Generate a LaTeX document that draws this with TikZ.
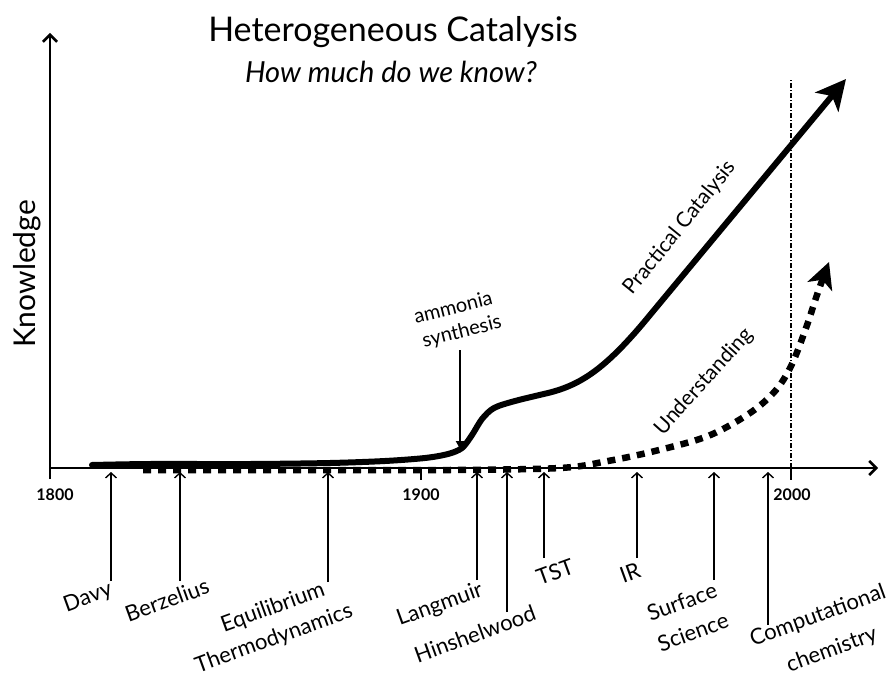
\documentclass[tikz,border=0pt]{standalone}
\usepackage{fontspec}
\setmainfont{Lato}
\usetikzlibrary{arrows.meta}
\begin{document}
\begin{tikzpicture}[x=1pt,y=-1pt,
  axisline/.style={line width=2.6pt,-{Straight Barb[length=7pt,width=14pt,line width=2.6pt]}},
  tickline/.style={line width=2.6pt},
  yearlbl/.style={font=\bfseries\fontsize{16}{16}\selectfont},
  evarrow/.style={line width=1.4pt,-{Straight Barb[length=5pt,width=11pt,line width=1.4pt]}},
  evlbl/.style={font=\fontsize{22}{22}\selectfont,rotate=20,inner sep=0pt},
  curvelbl/.style={font=\fontsize{21}{21}\selectfont,inner sep=0pt},
  practical/.style={line width=6pt,line cap=round,line join=round,
    -{Stealth[length=30pt,width=30pt,inset=8pt]}},
  understand/.style={line width=6.5pt,dash pattern=on 8pt off 7pt,
    -{Stealth[length=26pt,width=26pt,inset=7pt]}},
  refline/.style={line width=1.1pt,dash pattern=on 5pt off 2pt on 1pt off 2pt}
]
\useasboundingbox (0,0) rectangle (891,679);

% titles
\node[font=\fontsize{34}{34}\selectfont] (title) at (393,32) {Heterogeneous Catalysis};
\node[font=\itshape\fontsize{29}{29}\selectfont] (subtitle) at (391,72) {How much do we know?};
\node[font=\fontsize{30}{30}\selectfont,rotate=90] (know) at (27,274) {Knowledge};

% axes
\coordinate (ybot) at (50,479);
\coordinate (ytop) at (50,33);
\coordinate (orig) at (50,468);
\coordinate (xend) at (878,468);
\draw[axisline] (ybot) -- (ytop);
\draw[axisline] (orig) -- (xend);

% ticks
\coordinate (t19a) at (421,468); \coordinate (t19b) at (421,480);
\coordinate (t20a) at (791,468); \coordinate (t20b) at (791,480);
\draw[tickline] (t19a) -- (t19b);
\draw[tickline] (t20a) -- (t20b);
\node[yearlbl] (y1800) at (55,495) {1800};
\node[yearlbl] (y1900) at (421,495) {1900};
\node[yearlbl] (y2000) at (792,495) {2000};

% reference line at 2000
\coordinate (rtop) at (791,80);
\draw[refline] (t20a) -- (rtop);

% practical catalysis curve
\coordinate (pbend) at (650,315);
\coordinate (ptip) at (846,79);
\draw[practical] plot[smooth,tension=0.5] coordinates {
  (92,465) (150,464) (250,464) (330,463) (385,461) (425,458) (448,454)
  (462,448) (472,435) (482,419) (494,408) (515,401) (548,393)}
  .. controls (580,385) and (605,370) .. (pbend) -- (ptip);

% understanding curve
\draw[understand] plot[smooth,tension=0.55] coordinates {
  (143,470) (300,470) (450,470) (560,468) (608,461) (655,451) (708,436)
  (750,413) (776,390) (792,364) (806,328) (818,292) (829,262)};

% curve labels
\node[curvelbl,rotate=51] (pc) at (680,228) {Practical Catalysis};
\node[curvelbl,rotate=48] (und) at (704,382) {Understanding};

% ammonia synthesis
\node[font=\fontsize{20}{20}\selectfont,rotate=14,inner sep=0pt] (amm1) at (453,307) {ammonia};
\node[font=\fontsize{20}{20}\selectfont,rotate=14,inner sep=0pt] (amm2) at (462,332) {synthesis};
\coordinate (ammtop) at (460,350);
\coordinate (ammtip) at (460,449);
\draw[line width=2pt,-{Triangle[length=8pt,width=8pt]}] (ammtop) -- (ammtip);

% event labels
\node[evlbl] (davy) at (88,598) {Davy};
\node[evlbl] (berz) at (167,600) {Berzelius};
\node[evlbl] (equi1) at (273,608) {Equilibrium};
\node[evlbl] (equi2) at (274,639) {Thermodynamics};
\node[evlbl] (lang) at (440,605) {Langmuir};
\node[evlbl] (hins) at (475,634) {Hinshelwood};
\node[evlbl] (tst) at (555,572) {TST};
\node[evlbl] (ir) at (630,573) {IR};
\node[evlbl] (surf1) at (682,602) {Surface};
\node[evlbl] (surf2) at (693,632) {Science};
\node[evlbl] (comp1) at (818,616) {Computational};
\node[evlbl] (comp2) at (832,650) {chemistry};

% event arrows
\coordinate (davyb) at (111,581);   \coordinate (davyt) at (111,472);
\coordinate (berzb) at (180,581);   \coordinate (berzt) at (180,472);
\coordinate (equib) at (328,582);   \coordinate (equit) at (328,472);
\coordinate (langb) at (477,580);   \coordinate (langt) at (477,472);
\coordinate (hinsb) at (507,612);   \coordinate (hinst) at (507,472);
\coordinate (tstb) at (544,558);    \coordinate (tstt) at (544,472);
\coordinate (irb) at (637,558);     \coordinate (irt) at (637,472);
\coordinate (surfb) at (714,580);   \coordinate (surft) at (714,472);
\coordinate (compb) at (768,625);   \coordinate (compt) at (768,472);
\foreach \e in {davy,berz,equi,lang,hins,tst,ir,surf,comp}
  \draw[evarrow] (\e b) -- (\e t);
\end{tikzpicture}
\end{document}
